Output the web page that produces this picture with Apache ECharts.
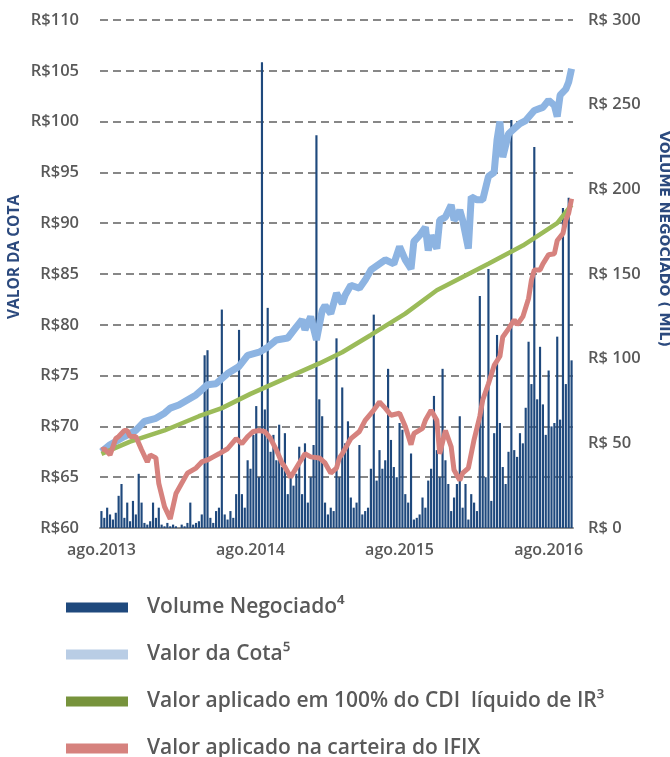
<!DOCTYPE html>
<html>
<head>
<meta charset="utf-8">
<script src="https://cdn.jsdelivr.net/npm/echarts@6.0.0/dist/echarts.min.js"></script>
<style>
  html, body { margin: 0; padding: 0; background: #fff; }
  #grafico { width: 670px; height: 757px; }
</style>
</head>
<body>
<div id="grafico"></div>
<script>
// dados semanais, de ago.2013 ate out.2016
var totalSemanas = 165;
var rotulosAno = ['ago.2013', 'ago.2014', 'ago.2015', 'ago.2016'];

// volume negociado (R$ mil) por semana
var volume = [
  10, 6, 12, 8, 5, 9, 19, 26, 6, 15,
  4, 16, 8, 32, 15, 3, 2, 4, 15, 6,
  12, 2, 1, 3, 1, 2, 1, 0, 2, 1,
  3, 15, 2, 3, 4, 8, 102, 105, 6, 3,
  10, 12, 129, 8, 5, 10, 6, 20, 117, 20,
  12, 40, 35, 55, 72, 30, 275, 70, 130, 45,
  55, 40, 61, 36, 56, 20, 30, 25, 32, 48,
  20, 50, 15, 30, 49, 232, 76, 66, 15, 8,
  12, 10, 112, 30, 83, 50, 63, 18, 12, 15,
  49, 8, 10, 12, 35, 126, 28, 46, 35, 40,
  94, 52, 36, 30, 62, 58, 20, 15, 44, 5,
  6, 8, 18, 12, 28, 35, 78, 46, 30, 94,
  40, 26, 10, 18, 26, 66, 12, 26, 5, 20,
  15, 10, 137, 76, 30, 153, 16, 56, 114, 62,
  36, 26, 45, 241, 46, 42, 56, 50, 71, 110,
  85, 225, 76, 107, 73, 55, 93, 60, 62, 113,
  64, 189, 85, 195, 99
];

// [semana, valor] - valor da cota
var cota = [
  [0, 67.5], [3, 68.2], [8, 69.0], [12, 69.6], [15, 70.5], [19, 70.8], [22, 71.3],
  [24, 71.8], [27, 72.1], [30, 72.6], [33, 73.1], [35, 73.6], [37, 74.1], [40, 74.2],
  [42, 74.7], [44, 75.2], [48, 75.9], [51, 77.0], [55, 77.3], [58, 77.8], [61, 78.5],
  [65, 78.7], [68, 79.8], [70, 80.5], [71, 79.5], [73, 80.8], [75, 78.5], [77, 81.4],
  [78, 81.9], [80, 81.1], [82, 83.1], [84, 82.1], [85, 82.9], [87, 83.9], [90, 83.6],
  [92, 84.4], [94, 85.4], [97, 86.0], [99, 86.4], [102, 86.0], [104, 87.7], [106, 86.4],
  [108, 85.5], [109, 88.2], [111, 88.8], [113, 89.6], [114, 87.3], [115, 88.8],
  [117, 87.5], [118, 90.3], [120, 90.6], [122, 91.8], [123, 90.3], [124, 90.6],
  [125, 91.3], [126, 90.3], [128, 87.5], [129, 92.6], [131, 92.3], [133, 92.3],
  [135, 94.6], [137, 95.0], [138, 98.2], [139, 100.0], [140, 96.5], [142, 98.8],
  [144, 99.3], [146, 99.8], [148, 100.1], [151, 101.1], [153, 101.3], [154, 101.4],
  [156, 102.1], [158, 101.6], [159, 100.5], [160, 102.6], [162, 103.2], [163, 103.9],
  [164, 105.2]
];

// valor aplicado em 100% do CDI liquido de IR
var cdi = [
  [0, 67.3], [10, 68.5], [22, 69.6], [34, 71.0], [42, 71.8], [52, 73.2], [64, 74.7],
  [76, 76.2], [84, 77.3], [94, 79.0], [106, 81.1], [117, 83.4], [126, 84.7],
  [135, 86.0], [147, 87.8], [159, 90.0], [164, 91.8]
];

// valor aplicado na carteira do IFIX
var ifix = [
  [0, 67.7], [1, 67.8], [3, 67.2], [5, 68.8], [6, 69.0], [8, 69.6], [9, 69.6],
  [10, 69.0], [12, 69.0], [14, 67.7], [16, 66.5], [17, 67.2], [19, 66.9], [20, 64.4],
  [22, 62.1], [24, 60.9], [26, 63.4], [28, 64.4], [30, 65.4], [33, 65.9], [35, 66.5],
  [37, 66.7], [39, 67.0], [41, 67.3], [44, 67.8], [47, 68.8], [49, 68.3], [51, 69.0],
  [53, 69.5], [55, 69.6], [57, 69.5], [59, 68.8], [61, 67.7], [63, 66.4], [64, 66.0],
  [66, 65.0], [69, 66.4], [71, 67.3], [73, 67.0], [76, 66.9], [78, 66.4], [80, 65.4],
  [82, 65.9], [83, 66.9], [84, 67.3], [85, 67.8], [87, 68.8], [90, 69.5], [92, 70.6],
  [95, 71.6], [97, 72.4], [99, 71.8], [101, 71.1], [104, 71.3], [106, 70.0],
  [108, 68.2], [109, 69.3], [112, 69.8], [113, 70.6], [115, 71.6], [117, 70.6],
  [118, 67.3], [120, 69.6], [122, 68.0], [123, 65.7], [125, 64.7], [126, 65.4],
  [128, 65.9], [130, 68.7], [132, 71.0], [133, 72.6], [135, 74.2], [137, 76.0],
  [139, 76.9], [140, 78.8], [142, 79.6], [144, 80.5], [145, 80.0], [147, 80.8],
  [149, 82.6], [150, 84.4], [151, 85.4], [153, 85.4], [154, 86.0], [156, 86.9],
  [158, 87.0], [159, 88.3], [161, 89.0], [162, 90.3], [163, 91.0], [164, 92.4]
];

var semanas = [];
for (var i = 0; i < totalSemanas; i++) semanas.push('s' + i);

var cinza = '#595959';
var azulTitulo = '#2c4a7e';
var fonte = '"Open Sans", sans-serif';

var grafico = echarts.init(document.getElementById('grafico'));
grafico.setOption({
  animation: false,
  backgroundColor: '#fff',
  grid: { left: 100, right: 97, top: 20, bottom: 229, outerBoundsMode: 'none' },
  legend: {
    orient: 'vertical',
    left: 66,
    top: 597,
    height: 200,
    padding: 0,
    icon: 'rect',
    itemWidth: 62,
    itemHeight: 10,
    itemGap: 26,
    selectedMode: false,
    textStyle: { color: cinza, fontSize: 21, fontWeight: 600, fontFamily: fonte, lineHeight: 20, padding: [0, 0, 0, 14] },
    data: [
      { name: 'Volume Negociado⁴', itemStyle: { color: '#1f497d' } },
      { name: 'Valor da Cota⁵', itemStyle: { color: '#b9cde5' } },
      { name: 'Valor aplicado em 100% do CDI  líquido de IR³', itemStyle: { color: '#77933c' } },
      { name: 'Valor aplicado na carteira do IFIX', itemStyle: { color: '#d6827e' } }
    ]
  },
  xAxis: {
    type: 'category',
    data: semanas,
    boundaryGap: true,
    axisLine: { lineStyle: { color: '#8c8c8c', width: 2 } },
    axisTick: {
      length: 5,
      lineStyle: { color: '#8c8c8c', width: 2 },
      interval: function (idx) { return idx % 26 === 0; }
    },
    axisLabel: {
      color: cinza, fontSize: 16, fontWeight: 600, fontFamily: fonte, margin: 14,
      interval: function (idx) { return idx % 52 === 0; },
      formatter: function (v, idx) { return rotulosAno[idx / 52]; }
    },
    splitLine: { show: false }
  },
  yAxis: [
    {
      type: 'value', min: 60, max: 110, interval: 5,
      name: 'VALOR DA COTA',
      nameLocation: 'middle',
      nameGap: 77,
      nameMoveOverlap: false,
      nameTextStyle: { color: azulTitulo, fontSize: 15.5, fontWeight: 'bold', fontFamily: fonte, padding: [0, 0, 0, 34] },
      axisLine: { show: false },
      axisTick: { show: false },
      axisLabel: { color: cinza, fontSize: 16.5, fontWeight: 600, fontFamily: fonte, margin: 21,
        formatter: function (v) { return 'R$' + v; } },
      splitLine: { lineStyle: { color: '#878787', width: 2, type: [8, 5] } }
    },
    {
      type: 'value', min: 0, max: 300, interval: 50,
      name: 'VOLUME NEGOCIADO ( MIL)',
      nameLocation: 'middle',
      nameRotate: -90,
      nameGap: 84,
      nameMoveOverlap: false,
      nameTextStyle: { color: azulTitulo, fontSize: 14, fontWeight: 'bold', fontFamily: '"DejaVu Sans", sans-serif', padding: [0, 70, 0, 0] },
      axisLine: { show: false },
      axisTick: { show: false },
      axisLabel: { color: cinza, fontSize: 16.5, fontWeight: 600, fontFamily: fonte, margin: 15,
        formatter: function (v) { return 'R$ ' + v; } },
      splitLine: { show: false }
    }
  ],
  series: [
    {
      name: 'Volume Negociado⁴',
      type: 'bar',
      yAxisIndex: 1,
      data: volume,
      barCategoryGap: '25%',
      itemStyle: { color: '#1f497d' }
    },
    {
      name: 'Valor da Cota⁵',
      type: 'line',
      yAxisIndex: 0,
      data: cota,
      showSymbol: false,
      color: '#8db4e2',
      lineStyle: { color: '#8db4e2', width: 7 }
    },
    {
      name: 'Valor aplicado em 100% do CDI  líquido de IR³',
      type: 'line',
      yAxisIndex: 0,
      data: cdi,
      showSymbol: false,
      color: '#9bbb59',
      lineStyle: { color: '#9bbb59', width: 4.5 }
    },
    {
      name: 'Valor aplicado na carteira do IFIX',
      type: 'line',
      yAxisIndex: 0,
      data: ifix,
      showSymbol: false,
      color: '#d6827e',
      lineStyle: { color: '#d6827e', width: 5 }
    }
  ]
});
</script>
</body>
</html>
